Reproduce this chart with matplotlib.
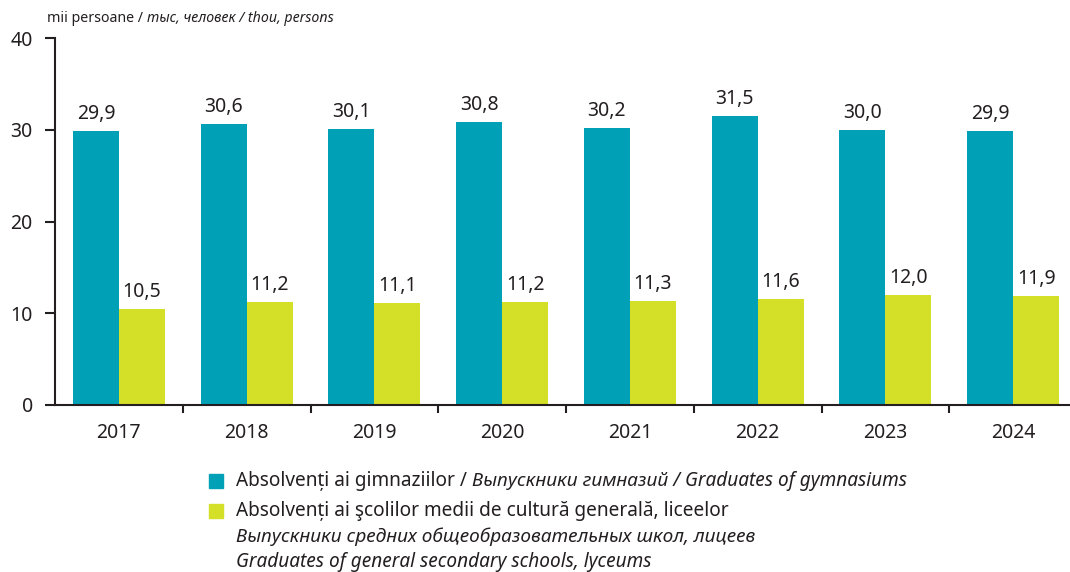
import matplotlib.pyplot as plt
import numpy as np

plt.rcParams['font.family'] = ['Noto Sans', 'DejaVu Sans']

years = ['2017', '2018', '2019', '2020', '2021', '2022', '2023', '2024']
gymnasiums = [29.9, 30.6, 30.1, 30.8, 30.2, 31.5, 30.0, 29.9]
lyceums = [10.5, 11.2, 11.1, 11.2, 11.3, 11.6, 12.0, 11.9]
y_ticks = [0, 10, 20, 30, 40]

teal = '#00a1b6'
lime = '#d4df28'
dark = '#231f20'

fig = plt.figure(figsize=(10.7, 5.72), dpi=100)
ax = fig.add_axes([55 / 1070, 167 / 572, 1022 / 1070, 367 / 572])

x = np.arange(len(years))
w = 0.36
ax.bar(x - w / 2, gymnasiums, w, color=teal, zorder=2)
ax.bar(x + w / 2, lyceums, w, color=lime, zorder=2)

for xi, v in zip(x, gymnasiums):
    ax.annotate(f'{v:.1f}'.replace('.', ','), (xi - w / 2, v), xytext=(0, 5),
                textcoords='offset points', ha='center', va='bottom', fontsize=14, color=dark)
for xi, v in zip(x, lyceums):
    ax.annotate(f'{v:.1f}'.replace('.', ','), (xi + w / 2, v), xytext=(0, 5),
                textcoords='offset points', ha='center', va='bottom', fontsize=14, color=dark)

ax.set_xlim(-0.5, len(years) - 0.5)
ax.set_ylim(0, 40)
ax.set_yticks(y_ticks)
ax.set_yticklabels([str(t) for t in y_ticks], fontsize=14, color=dark)
ax.set_xticks(x)
ax.set_xticklabels(years, fontsize=14, color=dark)
ax.tick_params(axis='x', length=0, pad=13)
ax.set_xticks(np.arange(0.5, len(years) - 0.5), minor=True)
ax.tick_params(axis='x', which='minor', length=6, width=1.5, color=dark, direction='out')
ax.tick_params(axis='y', length=7, width=1.5, color=dark, direction='out', pad=9)

for s in ['top', 'right']:
    ax.spines[s].set_visible(False)
for s in ['left', 'bottom']:
    ax.spines[s].set_linewidth(1.5)
    ax.spines[s].set_color(dark)

renderer = fig.canvas.get_renderer()


def mixed_text(xp, yp, parts, size):
    # draw normal/italic pieces one after another on the same line
    for txt, style in parts:
        t = fig.text(xp / 1070, 1 - yp / 572, txt, fontsize=size, style=style,
                     color=dark, va='center', ha='left')
        bb = t.get_window_extent(renderer)
        xp += bb.width


mixed_text(47, 18, [('mii persoane / ', 'normal'),
                    ('тыс, человек / thou, persons', 'italic')], 10.2)

fig.patches.append(plt.Rectangle((209 / 1070, 1 - 488 / 572), 14 / 1070, 14 / 572,
                                 transform=fig.transFigure, color=teal))
fig.patches.append(plt.Rectangle((209 / 1070, 1 - 518 / 572), 14 / 1070, 14 / 572,
                                 transform=fig.transFigure, color=lime))
mixed_text(236, 481, [('Absolvenți ai gimnaziilor / ', 'normal'),
                      ('Выпускники гимназий / Graduates of gymnasiums', 'italic')], 13.7)
mixed_text(236, 511, [('Absolvenți ai şcolilor medii de cultură generală, liceelor', 'normal')], 13.7)
mixed_text(236, 537, [('Выпускники средних общеобразовательных школ, лицеев', 'italic')], 13.7)
mixed_text(236, 562, [('Graduates of general secondary schools, lyceums', 'italic')], 13.7)

fig.savefig('out.png', dpi=100)
